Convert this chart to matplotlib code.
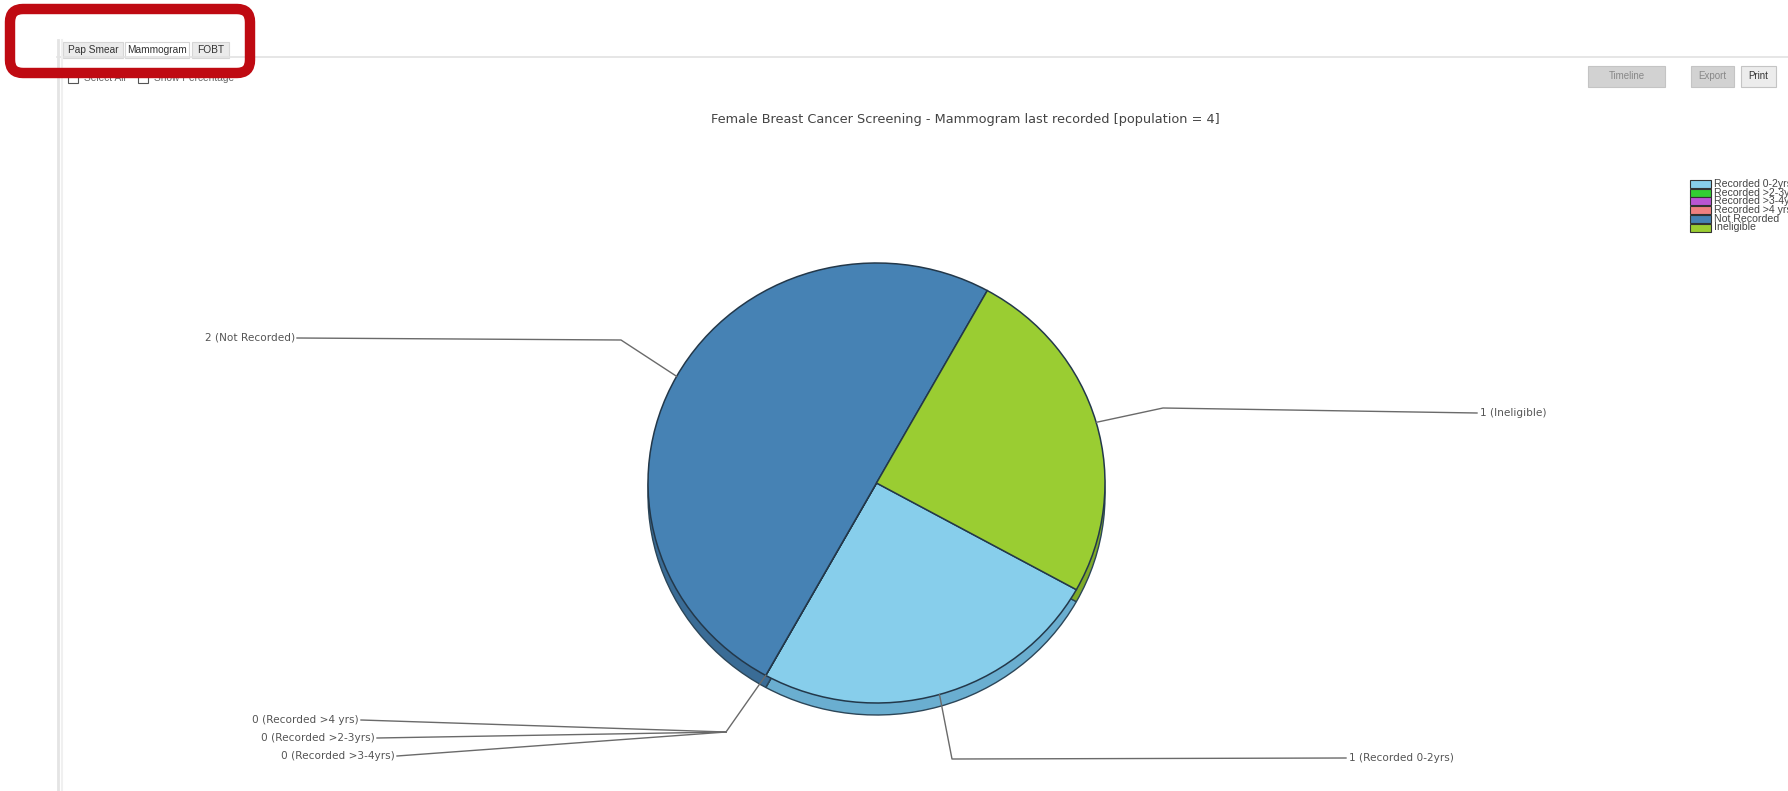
import numpy as np
import matplotlib
matplotlib.use("Agg")
import matplotlib.pyplot as plt
from matplotlib.patches import Rectangle, FancyBboxPatch
from matplotlib.transforms import Affine2D

plt.rcParams["font.family"] = ["DejaVu Sans"]

W, H = 1788, 791

# data
categories = ["Recorded 0-2yrs", "Recorded >2-3yrs", "Recorded >3-4yrs",
              "Recorded >4 yrs", "Not Recorded", "Ineligible"]
counts = [1, 0, 0, 0, 2, 1]
colors = ["#87ceeb", "#32cd32", "#ba55d3", "#f08080", "#4682b4", "#9acd32"]
side_colors = ["#6aaed0", "#28a828", "#9a44b0", "#c86868", "#3a6c96", "#7fab28"]
title = "Female Breast Cancer Screening - Mammogram last recorded [population = 4]"

tabs = ["Pap Smear", "Mammogram", "FOBT"]
buttons = ["Timeline", "Export", "Print"]


def Y(y):
    # screen pixel row -> data y (axes spans whole figure, y up)
    return H - y


fig = plt.figure(figsize=(W / 100, H / 100), dpi=100)
ax = fig.add_axes([0, 0, 1, 1])

# pie geometry (pixels)
cx, cy = 876.5, 483
rx, ry = 228.5, 220
depth = 12
start = -29

tr_top = Affine2D().scale(rx, ry).translate(cx, Y(cy)) + ax.transData
tr_side = Affine2D().scale(rx, ry).translate(cx, Y(cy + depth)) + ax.transData

side, _ = ax.pie(counts, colors=side_colors, startangle=start, counterclock=False,
                 radius=1, center=(0, 0),
                 wedgeprops=dict(edgecolor="#2c4658", linewidth=1.0))
for w in side:
    w.set_transform(tr_side)
    w.set_zorder(1)
top, _ = ax.pie(counts, colors=colors, startangle=start, counterclock=False,
                radius=1, center=(0, 0),
                wedgeprops=dict(edgecolor="#23384a", linewidth=1.1))
for w in top:
    w.set_transform(tr_top)
    w.set_zorder(2)

ax.set_xlim(0, W)
ax.set_ylim(0, H)
ax.set_aspect("auto")
ax.axis("off")


def edge_point(i):
    w = top[i]
    th = np.deg2rad((w.theta1 + w.theta2) / 2)
    return cx + rx * np.cos(th), cy - ry * np.sin(th)


# leader lines and labels
lab_color = "#555555"
line_color = "#6a6a6a"
lab_size = 7.6
leaders = [
    (4, [(621, 340), (297, 338)], (295, 338), "right"),
    (5, [(1163, 408), (1477, 413)], (1480, 413), "left"),
    (0, [(952, 759), (1346, 758)], (1349, 758), "left"),
]
for i, pts, (tx, ty), ha in leaders:
    ex, ey = edge_point(i)
    xs = [ex] + [p[0] for p in pts]
    ys = [Y(ey)] + [Y(p[1]) for p in pts]
    ax.plot(xs, ys, color=line_color, lw=1.0, zorder=3)
    ax.text(tx, Y(ty), f"{counts[i]} ({categories[i]})", ha=ha, va="center",
            fontsize=lab_size, color=lab_color)

# zero-value slices share one elbow
zx, zy = edge_point(1)
elbow = (726, 732)
ax.plot([zx, elbow[0]], [Y(zy), Y(elbow[1])], color=line_color, lw=1.0, zorder=3)
zero_pos = {3: (361, 720), 1: (377, 738), 2: (397, 756)}
for i, (tx, ty) in zero_pos.items():
    ax.plot([elbow[0], tx], [Y(elbow[1]), Y(ty)], color=line_color, lw=1.0, zorder=3)
    ax.text(tx - 2, Y(ty), f"{counts[i]} ({categories[i]})", ha="right", va="center",
            fontsize=lab_size, color=lab_color)

# title
ax.text(965, Y(119), title, ha="center", va="center", fontsize=9.3, color="#444444")

# legend (clipped by the figure edge as in the screenshot)
for k, (lab, col) in enumerate(zip(categories, colors)):
    yy = 184 + k * 8.7
    ax.add_patch(Rectangle((1690, Y(yy + 4)), 21, 8, facecolor=col,
                           edgecolor="#333333", lw=0.8, zorder=3))
    ax.text(1714, Y(yy), lab, ha="left", va="center", fontsize=7.6,
            color="#444444", family="Liberation Sans")

# window chrome
ax.plot([57, W], [Y(57), Y(57)], color="#e2e2e2", lw=1.2)
ax.plot([58, 58], [Y(40), 0], color="#e4e4e4", lw=2.0)
ax.plot([62, 62], [Y(40), 0], color="#f0f0f0", lw=1.5)

tab_box = [(63, 123), (125, 189), (192, 229)]
for name, (x0, x1) in zip(tabs, tab_box):
    sel = name == "Mammogram"
    ax.add_patch(Rectangle((x0, Y(58)), x1 - x0, 16, facecolor="white" if sel else "#ebebeb",
                           edgecolor="#d6d6d6", lw=0.8))
    ax.text((x0 + x1) / 2, Y(50), name, ha="center", va="center", fontsize=7.3,
            color="#333333", family="Liberation Sans")

for x0, txt in [(68, "Select All"), (138, "Show Percentage")]:
    ax.add_patch(Rectangle((x0, Y(83)), 10, 11, facecolor="white", edgecolor="#555555", lw=0.8))
    ax.text(x0 + 16, Y(78), txt, ha="left", va="center", fontsize=7.3, color="#666666",
            family="Liberation Sans")

btn_box = [(1588, 1665, "#d2d2d2"), (1691, 1734, "#d2d2d2"), (1741, 1776, "#ececec")]
for name, (x0, x1, fc) in zip(buttons, btn_box):
    ax.add_patch(Rectangle((x0, Y(87)), x1 - x0, 21, facecolor=fc, edgecolor="#c4c4c4", lw=0.8))
    ax.text((x0 + x1) / 2, Y(76), name, ha="center", va="center", fontsize=7,
            color="#888888" if name != "Print" else "#333333", family="Liberation Sans")

# red highlight frame
ax.add_patch(FancyBboxPatch((10, Y(73)), 240, 64, boxstyle="round,pad=0,rounding_size=13",
                            facecolor="none", edgecolor="#bf0a12", lw=7.5, zorder=5))

fig.savefig("out.png", dpi=100)
